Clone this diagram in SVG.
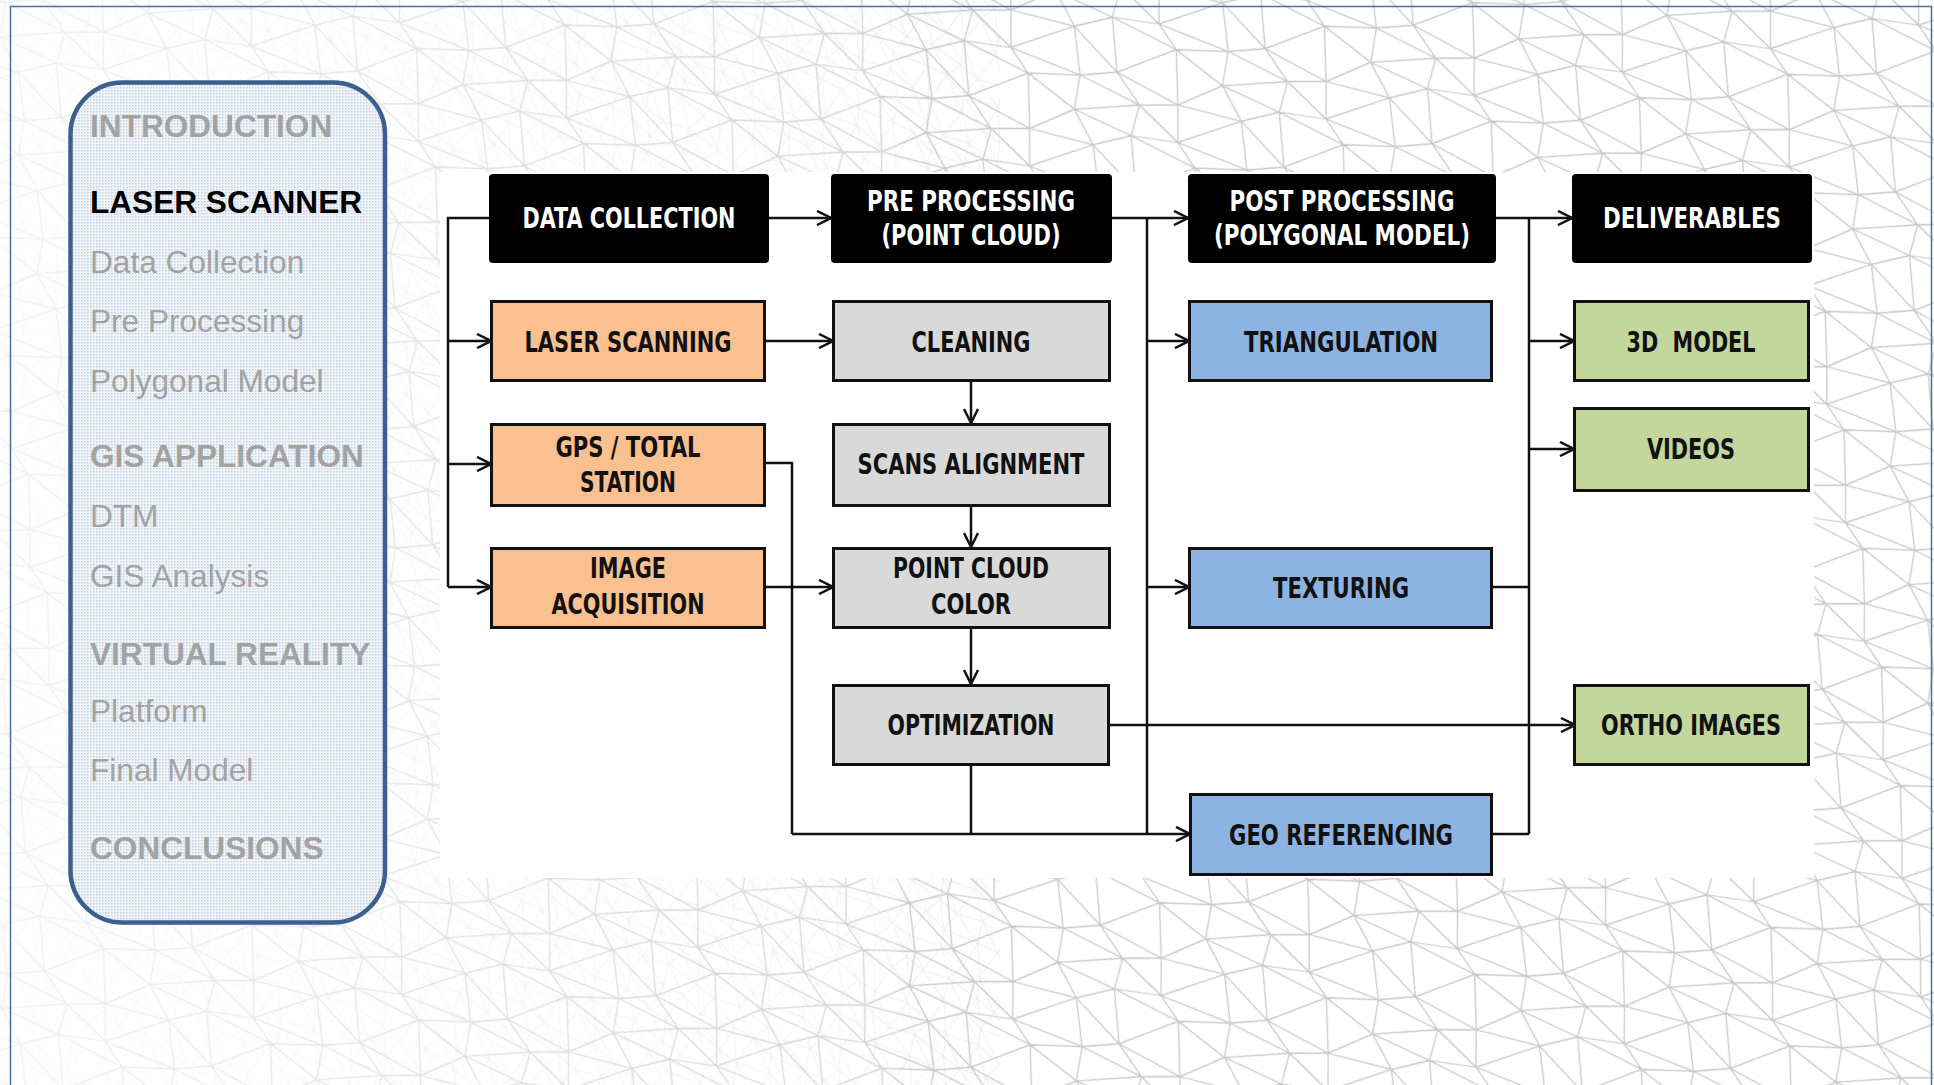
<svg xmlns="http://www.w3.org/2000/svg" xmlns:xlink="http://www.w3.org/1999/xlink" width="1934" height="1085" viewBox="0 0 1934 1085">
  <style>
    .side { font-family: "Liberation Sans", Arial, sans-serif; font-size: 31.6px; fill: #a3a3a3; }
    .side-b { font-weight: bold; }
    .side-on { fill: #000000; }
    .lbl { font-family: "DejaVu Sans Condensed", "DejaVu Sans", sans-serif; font-weight: bold; font-size: 29px; fill: #111111; text-anchor: middle; }
    .lbl-w { fill: #ffffff; }
    .hdr { fill: #000000; }
    .box { stroke: #111111; stroke-width: 3; }
    .orange { fill: #fac08f; }
    .grey { fill: #d9d9d9; }
    .blue { fill: #8db3e2; }
    .green { fill: #c3d69b; }
    .wire { fill: none; stroke: #111111; stroke-width: 2.5; }
    .arr { marker-end: url(#chev); }
    .mesh { fill: none; stroke: #c9c9c9; stroke-width: 1.3; stroke-linejoin: round; }
  </style>
  <defs>
    <!-- open chevron arrowhead -->
    <marker id="chev" viewBox="0 0 16 16" refX="15" refY="8" markerWidth="16" markerHeight="16" markerUnits="userSpaceOnUse" orient="auto">
      <path d="M1,1 L15,8 L1,15" fill="none" stroke="#111111" stroke-width="2.5"/>
    </marker>
    <!-- one periodic cell of the triangulated mesh -->
    <path id="cell" class="mesh" d="M5,3 L42,6 L104,-7 L155,3 M-6,36 L59,42 L97,48 L144,36 M7,74 L46,71 L91,85 L157,74 M5,3 L-6,36 L7,74 L5,123 M42,6 L59,42 L46,71 L42,126 M104,-7 L97,48 L91,85 L104,113 M5,3 L59,42 L91,85 L155,123 M42,6 L97,48 L157,74 M104,-7 L144,36 M-6,36 L46,71 L104,113 M7,74 L42,126"/>
    <pattern id="mesh" width="150" height="120" patternUnits="userSpaceOnUse" patternTransform="rotate(-9)">
      <use xlink:href="#cell" x="-150" y="-120"/><use xlink:href="#cell" x="0" y="-120"/><use xlink:href="#cell" x="150" y="-120"/>
      <use xlink:href="#cell" x="-150" y="0"/><use xlink:href="#cell" x="0" y="0"/><use xlink:href="#cell" x="150" y="0"/>
      <use xlink:href="#cell" x="-150" y="120"/><use xlink:href="#cell" x="0" y="120"/><use xlink:href="#cell" x="150" y="120"/>
    </pattern>
    <pattern id="mesh2" width="150" height="120" patternUnits="userSpaceOnUse" patternTransform="rotate(31) scale(0.55)">
      <use xlink:href="#cell" x="-150" y="-120"/><use xlink:href="#cell" x="0" y="-120"/><use xlink:href="#cell" x="150" y="-120"/>
      <use xlink:href="#cell" x="-150" y="0"/><use xlink:href="#cell" x="0" y="0"/><use xlink:href="#cell" x="150" y="0"/>
      <use xlink:href="#cell" x="-150" y="120"/><use xlink:href="#cell" x="0" y="120"/><use xlink:href="#cell" x="150" y="120"/>
    </pattern>
    <!-- halftone fill of the agenda panel -->
    <pattern id="dots" width="3" height="3" patternUnits="userSpaceOnUse">
      <rect width="3" height="3" fill="#f1f4f9"/>
      <rect width="1.5" height="1.5" fill="#c3d0e3"/>
    </pattern>
    <linearGradient id="fadeLeft" x1="0" y1="0" x2="1" y2="0">
      <stop offset="0" stop-color="#ffffff" stop-opacity="0.75"/>
      <stop offset="1" stop-color="#ffffff" stop-opacity="0.2"/>
    </linearGradient>
  </defs>

  <!-- backdrop: mesh texture around a white drawing panel -->
  <g id="background">
    <rect width="1934" height="1085" fill="#ffffff"/>
    <rect width="1934" height="1085" fill="url(#mesh)"/>
    <rect x="0" y="0" width="1000" height="1085" fill="url(#mesh2)" opacity="0.45"/>
    <rect x="0" y="0" width="900" height="1085" fill="url(#fadeLeft)"/>
    <rect x="440" y="172" width="1374" height="706" fill="#ffffff"/>
    <rect x="10.5" y="6.5" width="1921" height="1100" fill="none" stroke="#4f6fa0" stroke-width="1.5"/>
  </g>

  <!-- agenda panel -->
  <g id="agenda">
    <rect x="70.5" y="82.5" width="314.5" height="840" rx="52" ry="52" fill="url(#dots)" stroke="#3b5f8e" stroke-width="4.5"/>
    <text class="side side-b" x="90" y="137">INTRODUCTION</text>
    <text class="side side-b side-on" x="90" y="213">LASER SCANNER</text>
    <text class="side" x="90" y="273">Data Collection</text>
    <text class="side" x="90" y="332">Pre Processing</text>
    <text class="side" x="90" y="392">Polygonal Model</text>
    <text class="side side-b" x="90" y="467">GIS APPLICATION</text>
    <text class="side" x="90" y="527">DTM</text>
    <text class="side" x="90" y="587">GIS Analysis</text>
    <text class="side side-b" x="90" y="665">VIRTUAL REALITY</text>
    <text class="side" x="90" y="722">Platform</text>
    <text class="side" x="90" y="781">Final Model</text>
    <text class="side side-b" x="90" y="859">CONCLUSIONS</text>
  </g>

  <!-- connectors -->
  <g id="connectors">
    <!-- data collection fan-out -->
    <path class="wire" d="M489,218 H448 V587"/>
    <path class="wire arr" d="M448,341 H491"/>
    <path class="wire arr" d="M448,464 H491"/>
    <path class="wire arr" d="M448,587 H491"/>
    <path class="wire arr" d="M769,218 H831"/>
    <!-- pre processing chain -->
    <path class="wire arr" d="M765,341 H833"/>
    <path class="wire arr" d="M971,381 V423"/>
    <path class="wire arr" d="M971,506 V547"/>
    <path class="wire arr" d="M765,587 H833"/>
    <path class="wire arr" d="M971,628 V684"/>
    <!-- GPS and optimization to geo referencing -->
    <path class="wire" d="M765,463 H792 V834"/>
    <path class="wire" d="M971,765 V834"/>
    <path class="wire arr" d="M792,834 H1190"/>
    <!-- optimization to ortho images -->
    <path class="wire arr" d="M1109,725 H1575"/>
    <!-- post processing bus -->
    <path class="wire arr" d="M1112,218 H1188"/>
    <path class="wire" d="M1147,218 V834"/>
    <path class="wire arr" d="M1147,341 H1189"/>
    <path class="wire arr" d="M1147,587 H1189"/>
    <!-- deliverables bus -->
    <path class="wire arr" d="M1496,218 H1572"/>
    <path class="wire" d="M1529,218 V834"/>
    <path class="wire arr" d="M1529,341 H1574"/>
    <path class="wire arr" d="M1529,449 H1574"/>
    <path class="wire" d="M1492,587 H1529"/>
    <path class="wire" d="M1492,834 H1529"/>
  </g>

  <!-- column headers -->
  <g id="node-data-collection">
    <rect class="hdr" x="489" y="174" width="280" height="89" rx="4"/>
    <text class="lbl lbl-w" x="629" y="228" textLength="213" lengthAdjust="spacingAndGlyphs">DATA COLLECTION</text>
  </g>
  <g id="node-pre-processing">
    <rect class="hdr" x="831" y="174" width="281" height="89" rx="4"/>
    <text class="lbl lbl-w" x="971" y="211" textLength="208" lengthAdjust="spacingAndGlyphs">PRE PROCESSING</text>
    <text class="lbl lbl-w" x="971" y="245" textLength="179" lengthAdjust="spacingAndGlyphs">(POINT CLOUD)</text>
  </g>
  <g id="node-post-processing">
    <rect class="hdr" x="1188" y="174" width="308" height="89" rx="4"/>
    <text class="lbl lbl-w" x="1342" y="211" textLength="225" lengthAdjust="spacingAndGlyphs">POST PROCESSING</text>
    <text class="lbl lbl-w" x="1342" y="245" textLength="256" lengthAdjust="spacingAndGlyphs">(POLYGONAL MODEL)</text>
  </g>
  <g id="node-deliverables">
    <rect class="hdr" x="1572" y="174" width="240" height="89" rx="4"/>
    <text class="lbl lbl-w" x="1692" y="228" textLength="178" lengthAdjust="spacingAndGlyphs">DELIVERABLES</text>
  </g>

  <!-- data collection column -->
  <g id="node-laser-scanning">
    <rect class="box orange" x="491.5" y="301.5" width="273" height="79"/>
    <text class="lbl" x="628" y="352" textLength="207" lengthAdjust="spacingAndGlyphs">LASER SCANNING</text>
  </g>
  <g id="node-gps-total-station">
    <rect class="box orange" x="491.5" y="424.5" width="273" height="81"/>
    <text class="lbl" x="628" y="457" textLength="145" lengthAdjust="spacingAndGlyphs">GPS / TOTAL</text>
    <text class="lbl" x="628" y="492" textLength="96" lengthAdjust="spacingAndGlyphs">STATION</text>
  </g>
  <g id="node-image-acquisition">
    <rect class="box orange" x="491.5" y="548.5" width="273" height="79"/>
    <text class="lbl" x="628" y="578" textLength="76" lengthAdjust="spacingAndGlyphs">IMAGE</text>
    <text class="lbl" x="628" y="614" textLength="153" lengthAdjust="spacingAndGlyphs">ACQUISITION</text>
  </g>

  <!-- pre processing column -->
  <g id="node-cleaning">
    <rect class="box grey" x="833.5" y="301.5" width="276" height="79"/>
    <text class="lbl" x="971" y="352" textLength="119" lengthAdjust="spacingAndGlyphs">CLEANING</text>
  </g>
  <g id="node-scans-alignment">
    <rect class="box grey" x="833.5" y="424.5" width="276" height="81"/>
    <text class="lbl" x="971" y="474" textLength="227" lengthAdjust="spacingAndGlyphs">SCANS ALIGNMENT</text>
  </g>
  <g id="node-point-cloud-color">
    <rect class="box grey" x="833.5" y="548.5" width="276" height="79"/>
    <text class="lbl" x="971" y="578" textLength="156" lengthAdjust="spacingAndGlyphs">POINT CLOUD</text>
    <text class="lbl" x="971" y="614" textLength="80" lengthAdjust="spacingAndGlyphs">COLOR</text>
  </g>
  <g id="node-optimization">
    <rect class="box grey" x="833.5" y="685.5" width="275" height="79"/>
    <text class="lbl" x="971" y="735" textLength="167" lengthAdjust="spacingAndGlyphs">OPTIMIZATION</text>
  </g>

  <!-- post processing column -->
  <g id="node-triangulation">
    <rect class="box blue" x="1189.5" y="301.5" width="302" height="79"/>
    <text class="lbl" x="1341" y="352" textLength="194" lengthAdjust="spacingAndGlyphs">TRIANGULATION</text>
  </g>
  <g id="node-texturing">
    <rect class="box blue" x="1189.5" y="548.5" width="302" height="79"/>
    <text class="lbl" x="1341" y="598" textLength="136" lengthAdjust="spacingAndGlyphs">TEXTURING</text>
  </g>
  <g id="node-geo-referencing">
    <rect class="box blue" x="1190.5" y="794.5" width="301" height="80"/>
    <text class="lbl" x="1341" y="845" textLength="224" lengthAdjust="spacingAndGlyphs">GEO REFERENCING</text>
  </g>

  <!-- deliverables column -->
  <g id="node-3d-model">
    <rect class="box green" x="1574.5" y="301.5" width="234" height="79"/>
    <text class="lbl" x="1691" y="352" textLength="129" lengthAdjust="spacingAndGlyphs" style="white-space:pre">3D  MODEL</text>
  </g>
  <g id="node-videos">
    <rect class="box green" x="1574.5" y="408.5" width="234" height="82"/>
    <text class="lbl" x="1691" y="459" textLength="88" lengthAdjust="spacingAndGlyphs">VIDEOS</text>
  </g>
  <g id="node-ortho-images">
    <rect class="box green" x="1574.5" y="685.5" width="234" height="79"/>
    <text class="lbl" x="1691" y="735" textLength="180" lengthAdjust="spacingAndGlyphs">ORTHO IMAGES</text>
  </g>
</svg>
